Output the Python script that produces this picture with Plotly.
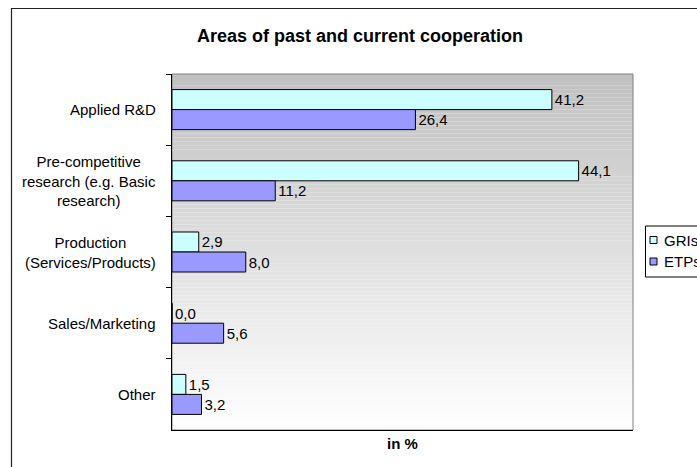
import plotly.graph_objects as go

# ---- data ----
categories = ["Applied R&D",
              "Pre-competitive<br>research (e.g. Basic<br>research)",
              "Production<br>(Services/Products)",
              "Sales/Marketing",
              "Other"]
series_names = ["GRIs", "ETPs"]
gris_values = [41.2, 44.1, 2.9, 0.0, 1.5]
etps_values = [26.4, 11.2, 8.0, 5.6, 3.2]
series_colors = ["#CCFFFF", "#9999FF"]
title_text = "Areas of past and current cooperation"
x_title = "in %"

W, H = 697, 467
FONT = "Arial, Liberation Sans, sans-serif"

def px_x(v):
    return v / W

def px_y(v):
    return 1 - v / H

plot_l, plot_r, plot_t, plot_b = 172, 633, 74, 430

fig = go.Figure()
for name, vals, col in zip(series_names, [gris_values, etps_values], series_colors):
    fig.add_trace(go.Bar(
        y=categories, x=vals, name=name, orientation="h",
        marker=dict(color=col, line=dict(color="black", width=1)),
        texttemplate="%{x:.1f}", textposition="outside",
        textfont=dict(family=FONT, size=15, color="black"),
        constraintext="none", cliponaxis=False, showlegend=False,
    ))

shapes = []
# gradient plot background (grey top -> white bottom)
N = 90
for i in range(N):
    t = (i + 0.5) / N  # 0 bottom, 1 top
    g = round(255 - (255 - 192) * t)
    shapes.append(dict(type="rect", xref="x domain", yref="y domain",
                       x0=0, x1=1, y0=i / N, y1=(i + 1) / N,
                       fillcolor=f"rgb({g},{g},{g})", line=dict(width=0),
                       layer="below"))
# plot area border (grey)
shapes.append(dict(type="rect", xref="x domain", yref="y domain",
                   x0=0, x1=1, y0=0, y1=1,
                   line=dict(color="#808080", width=1), layer="below"))
# chart frame
shapes.append(dict(type="rect", xref="paper", yref="paper",
                   x0=px_x(11.5), x1=1.1, y0=-0.1, y1=px_y(8.5),
                   line=dict(color="#222222", width=1.2), layer="below"))
# legend box
shapes.append(dict(type="rect", xref="paper", yref="paper",
                   x0=px_x(645.5), x1=1.1, y0=px_y(277), y1=px_y(226),
                   line=dict(color="black", width=1), fillcolor="white", layer="above"))

annotations = []
# category labels
for c in categories:
    annotations.append(dict(text=c, xref="paper", yref="y", x=px_x(158), y=c,
                            xanchor="right", yanchor="middle", align="center",
                            showarrow=False,
                            font=dict(family=FONT, size=15, color="black")))
# x axis title
annotations.append(dict(text=f"<b>{x_title}</b>", xref="x domain", yref="paper",
                        x=0.5, y=px_y(443), xanchor="center", yanchor="middle",
                        showarrow=False, font=dict(family=FONT, size=15, color="black")))
# legend items
legend_y = [240, 261.5]
for name, col, ly in zip(series_names, series_colors, legend_y):
    shapes.append(dict(type="rect", xref="paper", yref="paper",
                       x0=px_x(650), x1=px_x(657), y0=px_y(ly + 3.5), y1=px_y(ly - 3.5),
                       fillcolor=col, line=dict(color="black", width=1), layer="above"))
    annotations.append(dict(text=name, xref="paper", yref="paper",
                            x=px_x(662), y=px_y(ly), xanchor="left", yanchor="middle",
                            showarrow=False, font=dict(family=FONT, size=15, color="black")))

fig.update_layout(
    width=W, height=H,
    margin=dict(l=0, r=0, t=0, b=0, pad=0, autoexpand=False),
    paper_bgcolor="white", plot_bgcolor="rgba(0,0,0,0)",
    separators=",.",
    barmode="group", bargap=0.438, bargroupgap=0,
    showlegend=False,
    title=dict(text=f"<b>{title_text}</b>", x=px_x(360), xanchor="center",
               y=px_y(35.5), yanchor="middle",
               font=dict(family=FONT, size=18, color="black")),
    xaxis=dict(domain=[px_x(plot_l), px_x(plot_r)], range=[0, 50],
               showgrid=False, zeroline=False, showticklabels=False, ticks="",
               showline=True, linecolor="black", linewidth=1),
    yaxis=dict(domain=[px_y(plot_b), px_y(plot_t)], autorange="reversed",
               showgrid=False, zeroline=False, showticklabels=False,
               ticks="outside", ticklen=5, tickcolor="black", tickwidth=1,
               tickson="boundaries",
               showline=True, linecolor="black", linewidth=1),
    shapes=shapes, annotations=annotations,
    font=dict(family=FONT, size=15, color="black"),
)

fig.write_html(
    "out.html",
    config={"displayModeBar": False},
    post_script="document.body.style.margin='0';document.body.style.overflow='hidden';",
)
